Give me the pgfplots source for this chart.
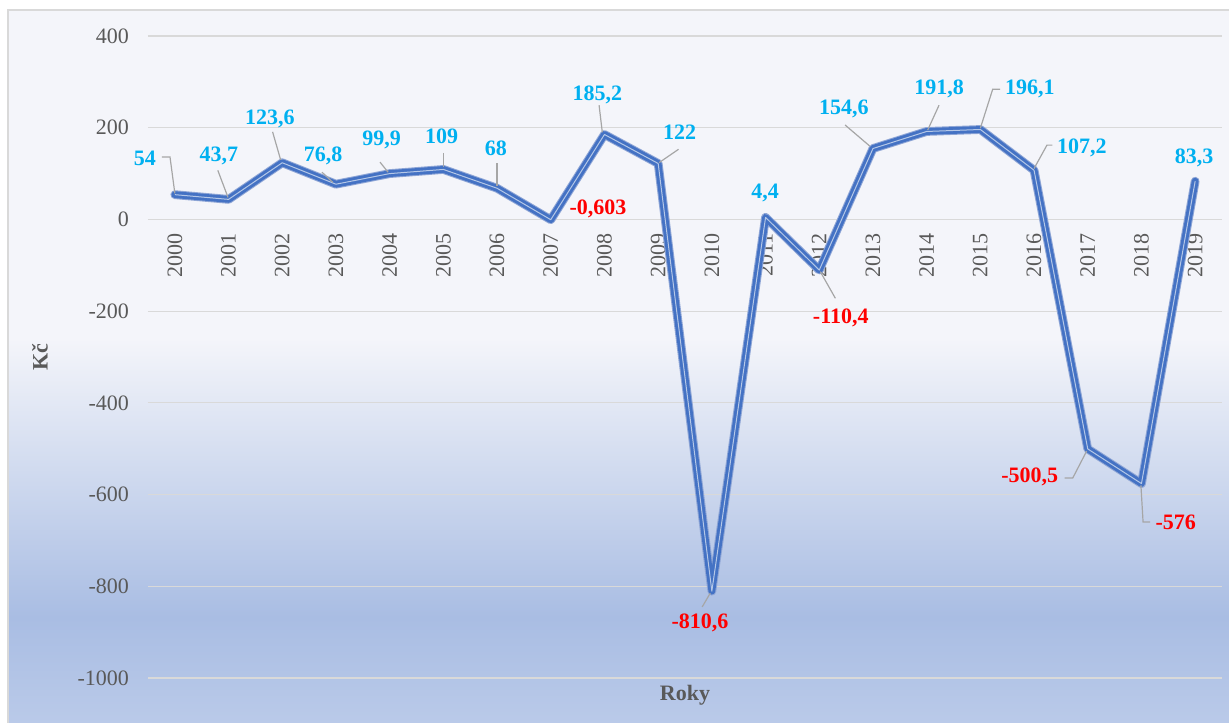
\documentclass[border=0pt]{standalone}
\usepackage{fontspec}
\setmainfont{Liberation Serif}
\usepackage{pgfplots}
\usepackage{pgfplotstable}
\pgfplotsset{compat=1.18}

\definecolor{tickgray}{HTML}{595959}
\definecolor{gridgray}{HTML}{D9D9D9}
\definecolor{framegray}{HTML}{D9D9D9}
\definecolor{leadgray}{HTML}{A6A6A6}
\definecolor{poscol}{HTML}{00B0F0}
\definecolor{negcol}{HTML}{FF0000}
\definecolor{lineblue}{HTML}{4472C4}
\definecolor{lineedge}{HTML}{8FA6D6}
\definecolor{linelight}{HTML}{B4C7E7}
\definecolor{bgtop}{HTML}{F4F5FA}
\definecolor{bgblue}{HTML}{A9BDE3}
\definecolor{bgbot}{HTML}{BACAE9}

\pgfdeclareverticalshading{chartbg}{100bp}{color(0bp)=(bgbot); color(25bp)=(bgbot);
  color(32.5bp)=(bgblue); color(52bp)=(bgtop); color(75bp)=(bgtop); color(100bp)=(bgtop)}

\pgfplotstableread{
year value
2000 54
2001 43.7
2002 123.6
2003 76.8
2004 99.9
2005 109
2006 68
2007 -0.603
2008 185.2
2009 122
2010 -810.6
2011 4.4
2012 -110.4
2013 154.6
2014 191.8
2015 196.1
2016 107.2
2017 -500.5
2018 -576
2019 83.3
}\datatable

\newcommand{\lbl}[4]{\node[font=\fontsize{11}{13}\selectfont\bfseries,text=#4,inner sep=0pt] at (axis cs:#1,#2) {#3};}

\begin{document}
\begin{tikzpicture}
\useasboundingbox (-74pt,-22pt) rectangle (540.5pt,339pt);
\fill[white] (-74pt,-22pt) rectangle (540.5pt,339pt);
\shade[shading=chartbg] (-70pt,-23pt) rectangle (541pt,334pt);
\draw[framegray,line width=0.75pt] (-70pt,-23pt) rectangle (541pt,334pt);
\begin{axis}[
  at={(0,0)},anchor=south west,
  scale only axis,width=537pt,height=321pt,
  xmin=1999.5,xmax=2019.5,ymin=-1000,ymax=400,
  xtick={2000,...,2019},ytick={-1000,-800,...,400},
  axis x line*=middle,axis y line*=left,
  axis line style={draw=none},tick style={draw=none},
  ymajorgrids=true,grid style={gridgray,line width=0.6pt},
  font=\fontsize{11}{13}\selectfont,
  ticklabel style={text=tickgray},
  /pgf/number format/assume math mode=true,
  /pgf/number format/set thousands separator={},
  xticklabel style={rotate=90,anchor=east},
  xticklabel shift=3.5pt,
  yticklabel style={anchor=east,xshift=-6pt},
  clip=false,
]
\addplot[draw=lineedge,line width=4.4pt,line join=round,line cap=round,mark=none] table[x=year,y=value] {\datatable};
\addplot[draw=lineblue,line width=3.4pt,line join=round,line cap=round,mark=none] table[x=year,y=value] {\datatable};
\addplot[draw=linelight,line width=0.5pt,line join=round,mark=none] table[x=year,y=value] {\datatable};

% leaders
\draw[leadgray,line width=0.6pt] (axis cs:1999.76,136) -- (axis cs:1999.91,136) -- (axis cs:2000,57);
\draw[leadgray,line width=0.6pt] (axis cs:2000.80,107) -- (axis cs:2000.99,48);
\draw[leadgray,line width=0.6pt] (axis cs:2001.82,191) -- (axis cs:2001.97,130);
\draw[leadgray,line width=0.6pt] (axis cs:2002.74,103) -- (axis cs:2002.94,81);
\draw[leadgray,line width=0.6pt] (axis cs:2003.82,125) -- (axis cs:2003.97,103);
\draw[leadgray,line width=0.6pt] (axis cs:2005,145) -- (axis cs:2005,114);
\draw[leadgray,line width=0.6pt] (axis cs:2006,123) -- (axis cs:2006,72);
\draw[leadgray,line width=0.6pt] (axis cs:2007.90,249) -- (axis cs:2007.96,190);
\draw[leadgray,line width=0.6pt] (axis cs:2009.38,153) -- (axis cs:2009.02,124);
\draw[leadgray,line width=0.6pt] (axis cs:2009.82,-845) -- (axis cs:2009.97,-815);
\draw[leadgray,line width=0.6pt] (axis cs:2012.30,-172) -- (axis cs:2012.02,-114);
\draw[leadgray,line width=0.6pt] (axis cs:2012.48,206) -- (axis cs:2012.94,160);
\draw[leadgray,line width=0.6pt] (axis cs:2014.23,249) -- (axis cs:2014.02,195);
\draw[leadgray,line width=0.6pt] (axis cs:2015.37,284) -- (axis cs:2015.23,284) -- (axis cs:2015.0,199);
\draw[leadgray,line width=0.6pt] (axis cs:2016.34,162) -- (axis cs:2016.24,162) -- (axis cs:2016.0,111);
\draw[leadgray,line width=0.6pt] (axis cs:2016.57,-564) -- (axis cs:2016.72,-564) -- (axis cs:2016.98,-505);
\draw[leadgray,line width=0.6pt] (axis cs:2018.16,-660) -- (axis cs:2018.03,-660) -- (axis cs:2017.99,-580);

% data labels
\lbl{1999.44}{134}{54}{poscol}
\lbl{2000.82}{139}{43,7}{poscol}
\lbl{2001.77}{219}{123,6}{poscol}
\lbl{2002.76}{139}{76,8}{poscol}
\lbl{2003.85}{173}{99,9}{poscol}
\lbl{2004.97}{181}{109}{poscol}
\lbl{2005.98}{156}{68}{poscol}
\lbl{2007.88}{23}{-0,603}{negcol}
\lbl{2007.87}{272}{185,2}{poscol}
\lbl{2009.40}{191}{122}{poscol}
\lbl{2009.78}{-880}{-810,6}{negcol}
\lbl{2010.99}{57}{4,4}{poscol}
\lbl{2012.40}{-215}{-110,4}{negcol}
\lbl{2012.46}{241}{154,6}{poscol}
\lbl{2014.23}{284}{191,8}{poscol}
\lbl{2015.92}{284}{196,1}{poscol}
\lbl{2016.89}{155}{107,2}{poscol}
\lbl{2015.92}{-562}{-500,5}{negcol}
\lbl{2018.64}{-660}{-576}{negcol}
\lbl{2018.98}{135}{83,3}{poscol}

% axis titles
\node[font=\fontsize{11}{13}\selectfont\bfseries,text=tickgray,rotate=90] at (rel axis cs:-0.1006,0.5) {Kč};
\node[font=\fontsize{11}{13}\selectfont\bfseries,text=tickgray] at (rel axis cs:0.5,-0.0265) {Roky};
\end{axis}
\end{tikzpicture}
\end{document}
